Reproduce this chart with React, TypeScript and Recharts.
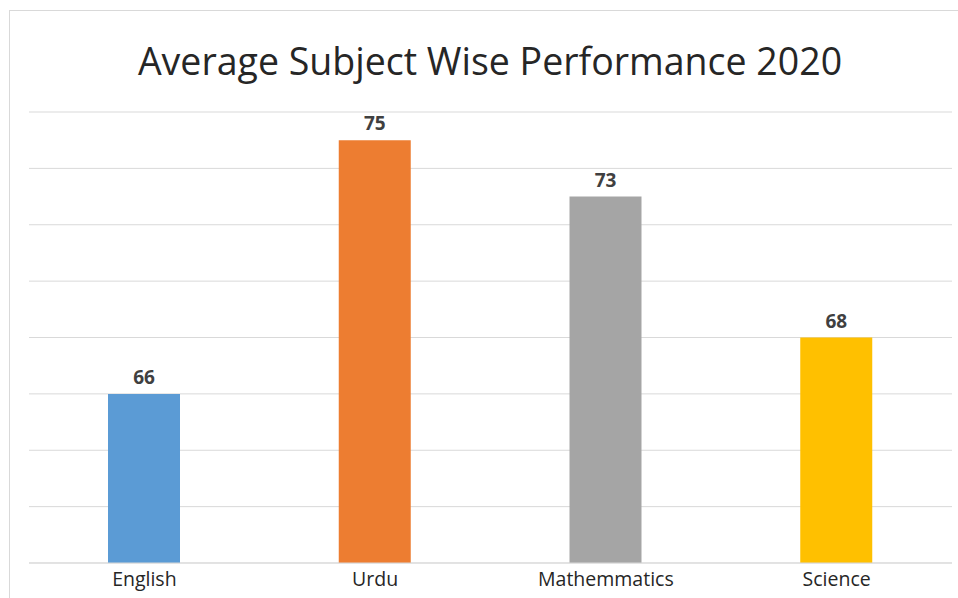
import { BarChart, Bar, XAxis, YAxis, CartesianGrid, Cell, LabelList } from "recharts";

const subjects = ["English", "Urdu", "Mathemmatics", "Science"];
const scores = [66, 75, 73, 68];
const colors = ["#5B9BD5", "#ED7D31", "#A5A5A5", "#FFC000"];
const yTicks = [60, 62, 64, 66, 68, 70, 72, 74, 76];

const data = subjects.map((name, i) => ({ name, score: scores[i] }));

export default function App() {
  return (
    <div style={{ position: "absolute", left: 0, top: 0, width: 958, height: 598, overflow: "hidden", background: "#fff", fontFamily: "'Open Sans', sans-serif" }}>
      <div style={{ position: "absolute", left: 9, top: 10, width: 970, height: 620, border: "1px solid #d9d9d9" }} />
      <div style={{ position: "absolute", left: 0, top: 35, width: 980, textAlign: "center", fontSize: 37.5, color: "#262626" }}>
        Average Subject Wise Performance 2020
      </div>
      <div style={{ position: "absolute", left: 0, top: 0 }}>
        <BarChart width={958} height={598} data={data} margin={{ top: 112, right: 6, bottom: 0, left: 29 }}>
          <CartesianGrid vertical={false} stroke="#d9d9d9" />
          <YAxis hide domain={[60, 76]} ticks={yTicks} />
          <XAxis
            dataKey="name"
            height={35}
            tickLine={false}
            axisLine={{ stroke: "#d9d9d9" }}
            tick={{ fill: "#262626", fontSize: 19.5 }}
            tickMargin={3}
          />
          <Bar dataKey="score" barSize={72} isAnimationActive={false}>
            {data.map((d, i) => (
              <Cell key={d.name} fill={colors[i]} />
            ))}
            <LabelList dataKey="score" position="top" offset={10} fill="#404040" fontSize={19} fontWeight="bold" />
          </Bar>
        </BarChart>
      </div>
    </div>
  );
}
